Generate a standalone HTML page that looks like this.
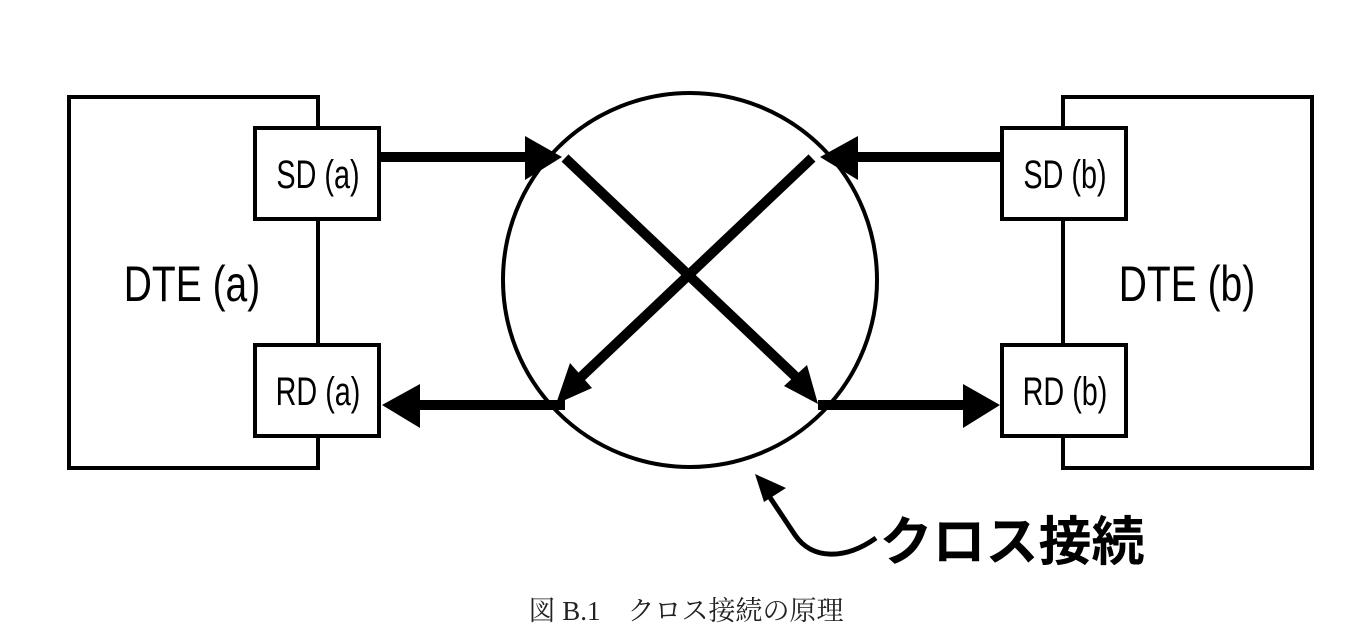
<!DOCTYPE html>
<html><head><meta charset="utf-8"><style>
html,body{margin:0;padding:0;background:#fff}
svg{display:block}
.l{font-family:"Liberation Sans",sans-serif;fill:#000}
</style></head><body>
<svg width="1365" height="644" viewBox="0 0 1365 644" xmlns="http://www.w3.org/2000/svg">
<g fill="none" stroke="#000" stroke-width="4">
<rect x="69" y="97" width="249" height="371" fill="#fff"/>
<rect x="1063" y="97" width="249" height="371" fill="#fff"/>
<rect x="255" y="128" width="124" height="91" fill="#fff"/>
<rect x="255" y="345" width="124" height="91" fill="#fff"/>
<rect x="1002" y="128" width="124" height="91" fill="#fff"/>
<rect x="1002" y="345" width="124" height="91" fill="#fff"/>
<ellipse cx="690" cy="280" rx="187" ry="187"/>
</g>
<g stroke="#000" stroke-width="10" fill="none">
<line x1="380" y1="157" x2="528" y2="157"/>
<line x1="1000" y1="157" x2="855" y2="157"/>
<line x1="565" y1="405" x2="420" y2="405"/>
<line x1="818" y1="405" x2="965" y2="405"/>
<line x1="565" y1="158" x2="797" y2="378"/>
<line x1="812" y1="158" x2="580" y2="378"/>
</g>
<g fill="#000">
<polygon points="525,136 525,180 562,157"/>
<polygon points="858,136 858,180 820,157"/>
<polygon points="420,384 420,428 382,405"/>
<polygon points="963,384 963,428 1000,405"/>
<polygon points="784,386 807,365 818,404"/>
<polygon points="570,363 592,388 556,404"/>
</g>
<path d="M876,538 C845,560 812,560 795,535 L765,490" fill="none" stroke="#000" stroke-width="5"/>
<polygon points="755,474 786,488 764,502" fill="#000"/>
<g class="l" font-size="40" text-anchor="middle">
<text transform="translate(318,188) scale(0.72,1)" xml:space="preserve">SD (a)</text>
<text transform="translate(318,405) scale(0.72,1)" xml:space="preserve">RD (a)</text>
<text transform="translate(1065,188) scale(0.72,1)" xml:space="preserve">SD (b)</text>
<text transform="translate(1065,405) scale(0.72,1)" xml:space="preserve">RD (b)</text>
</g>
<g class="l" font-size="50" text-anchor="middle">
<text transform="translate(192,301) scale(0.78,1)" xml:space="preserve">DTE (a)</text>
<text transform="translate(1187,301) scale(0.78,1)" xml:space="preserve">DTE (b)</text>
</g>
<text x="1012" y="560" text-anchor="middle" font-size="53" font-weight="bold" font-family="'Liberation Sans','Noto Sans CJK JP',sans-serif">クロス接続</text>
<text x="686" y="620" text-anchor="middle" font-size="27" font-family="'Liberation Serif','Noto Serif CJK SC',serif" fill="#222">図 B.1　クロス接続の原理</text>
</svg>
</body></html>
